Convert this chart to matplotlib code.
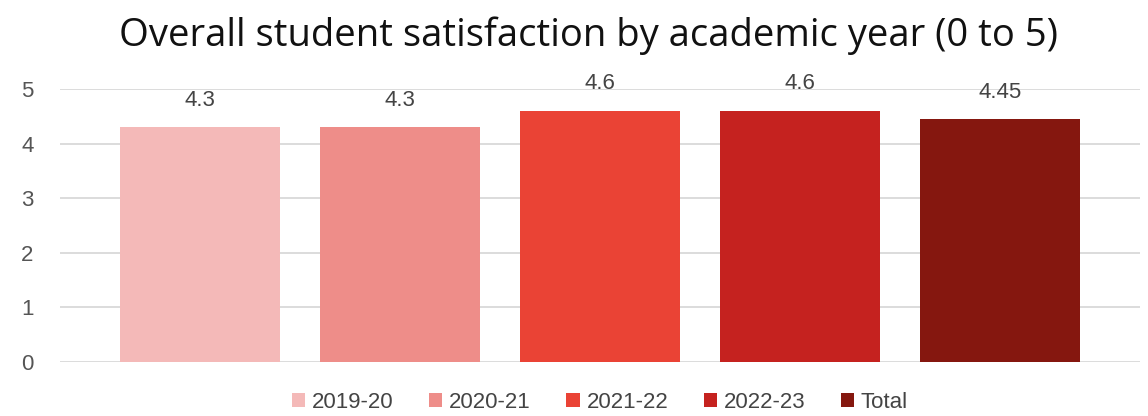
import matplotlib
matplotlib.use('Agg')
import matplotlib.pyplot as plt

years = ["2019-20", "2020-21", "2021-22", "2022-23", "Total"]
scores = [4.3, 4.3, 4.6, 4.6, 4.45]
labels = ["4.3", "4.3", "4.6", "4.6", "4.45"]
colors = ["#F4B9B8", "#EE8D89", "#EA4335", "#C5221F", "#85170F"]

fig = plt.figure(figsize=(11.48, 4.16), dpi=100)
ax = fig.add_axes([60/1148, 1 - 362/416, 1080/1148, 273/416])

for i, (yr, val, lab, c) in enumerate(zip(years, scores, labels, colors)):
    ax.bar(i, val, width=0.8, color=c, label=yr, zorder=2)
    ax.text(i, val + 0.3, lab, ha='center', va='bottom', fontsize=16,
            color='#444444', family='Liberation Sans')

ax.set_xlim(-0.7, 4.7)
ax.set_ylim(0, 5)
ax.set_yticks(range(6))
ax.set_xticks([])
ax.grid(axis='y', color='#d9d9d9', linewidth=1.3, zorder=0)
for s in ax.spines.values():
    s.set_visible(False)
ax.tick_params(axis='y', length=0, pad=19, labelsize=16, labelcolor='#555555')
for t in ax.get_yticklabels():
    t.set_family('Liberation Sans')

fig.text(0.513, 0.915, "Overall student satisfaction by academic year (0 to 5)",
         ha='center', va='center', fontsize=27.5, color='#111111', family='Open Sans')

leg = ax.legend(loc='upper center', bbox_to_anchor=(0.5, -0.035), ncol=5,
                frameon=False, handlelength=0.6, handleheight=0.6,
                handletextpad=0.3, columnspacing=1.6,
                prop={'family': 'Liberation Sans', 'size': 16})
for t in leg.get_texts():
    t.set_color('#444444')

fig.savefig("out.png", dpi=100)
